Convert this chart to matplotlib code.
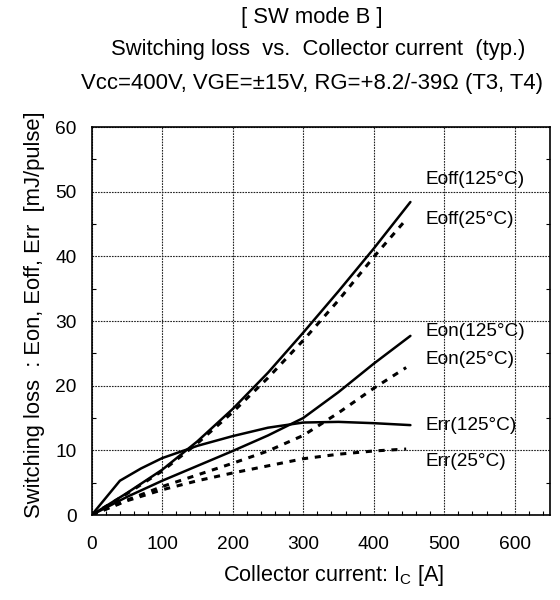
import matplotlib
matplotlib.use("Agg")
import matplotlib.pyplot as plt
from matplotlib.ticker import MultipleLocator

plt.rcParams['font.family'] = ['Liberation Sans', 'DejaVu Sans']

# Data (collector current [A], switching loss [mJ/pulse])
ic_eoff125 = [0, 50, 100, 150, 200, 250, 300, 350, 400, 452]
eoff125 = [0, 3.4, 7.0, 11.4, 16.4, 22.0, 28.2, 34.6, 41.2, 48.4]

ic_eoff25 = [0, 50, 100, 150, 200, 250, 300, 350, 400, 446]
eoff25 = [0, 3.3, 6.8, 11.1, 15.9, 21.2, 27.0, 33.2, 39.9, 45.7]

ic_eon125 = [0, 50, 100, 150, 200, 250, 300, 350, 400, 452]
eon125 = [0, 2.8, 5.3, 7.6, 9.9, 12.3, 15.0, 19.0, 23.4, 27.7]

ic_eon25 = [0, 50, 100, 150, 200, 250, 300, 350, 400, 446]
eon25 = [0, 2.3, 4.4, 6.2, 8.0, 9.9, 12.3, 15.8, 19.6, 22.8]

ic_err125 = [0, 40, 70, 100, 150, 200, 250, 300, 350, 400, 452]
err125 = [0, 5.3, 7.2, 8.8, 10.7, 12.2, 13.5, 14.3, 14.4, 14.2, 13.9]

ic_err25 = [0, 50, 100, 150, 200, 250, 300, 350, 400, 446]
err25 = [0, 2.2, 3.9, 5.3, 6.5, 7.6, 8.7, 9.4, 9.9, 10.2]

curve_labels = ["Eoff(125°C)", "Eoff(25°C)", "Eon(125°C)", "Eon(25°C)", "Err(125°C)", "Err(25°C)"]
label_y = [51.9, 45.7, 28.4, 24.1, 13.9, 8.25]
label_x = 473

x_ticks = [0, 100, 200, 300, 400, 500, 600]
y_ticks = [0, 10, 20, 30, 40, 50, 60]

title_lines = ["[ SW mode B ]",
               "Switching loss  vs.  Collector current  (typ.)",
               "Vcc=400V, VGE=±15V, RG=+8.2/-39Ω (T3, T4)"]

W, H = 560, 600
fig = plt.figure(figsize=(W / 100, H / 100), dpi=100)
ax = fig.add_axes([91.7 / W, 1 - 515 / H, (550 - 91.7) / W, (515 - 127) / H])

solid = dict(color='black', lw=1.8, solid_capstyle='round')
dashed = dict(color='black', lw=2.2, linestyle=(0, (2.0, 2.2)))

ax.plot(ic_eoff125, eoff125, **solid)
ax.plot(ic_eoff25, eoff25, **dashed)
ax.plot(ic_eon125, eon125, **solid)
ax.plot(ic_eon25, eon25, **dashed)
ax.plot(ic_err125, err125, **solid)
ax.plot(ic_err25, err25, **dashed)

for lab, yy in zip(curve_labels, label_y):
    ax.text(label_x, yy, lab, fontsize=13.7, ha='left', va='center', color='black')

ax.set_xlim(0, 650)
ax.set_ylim(0, 60)
ax.set_xticks(x_ticks)
ax.set_yticks(y_ticks)
ax.xaxis.set_minor_locator(MultipleLocator(20))
ax.yaxis.set_minor_locator(MultipleLocator(5))
ax.tick_params(which='major', length=0, labelsize=13.8)
ax.tick_params(axis='x', which='major', pad=15)
ax.tick_params(axis='y', which='major', pad=11)
ax.tick_params(which='minor', direction='in', length=3, width=0.8,
               bottom=True, left=True, right=True, top=False)
ax.grid(True, which='major', color='#222222', lw=0.8, linestyle=(0, (1.5, 1.0)))
for s in ax.spines.values():
    s.set_linewidth(1.2)
    s.set_color('black')

fig.text(35 / W, 1 - 315 / H,
         "Switching loss  : Eon, Eoff, Err  [mJ/pulse]",
         rotation=90, ha='center', va='center', fontsize=15.8)
fig.text(334 / W, 1 - 576 / H, "Collector current: I$_\\mathregular{C}$ [A]",
         ha='center', va='center', fontsize=15.6)

fig.text(312 / W, 1 - 17 / H, title_lines[0], ha='center', va='center', fontsize=15.8)
fig.text(318 / W, 1 - 50 / H, title_lines[1], ha='center', va='center', fontsize=15.8)
fig.text(312 / W, 1 - 83 / H, title_lines[2], ha='center', va='center', fontsize=15.9)

fig.savefig("out.png", dpi=100)
